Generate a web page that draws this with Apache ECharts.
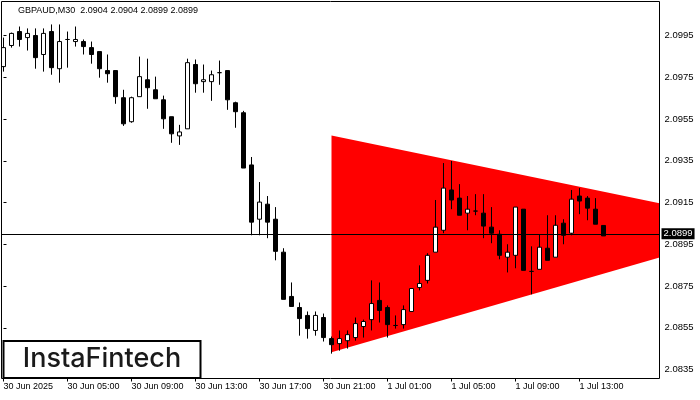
<!DOCTYPE html>
<html><head><meta charset="utf-8">
<script src="https://cdn.jsdelivr.net/npm/echarts@6.0.0/dist/echarts.min.js"></script>
<style>html,body{margin:0;padding:0;background:#fff}#c{width:700px;height:400px}</style>
</head><body><div id="c"></div>
<script>
const titleText = "GBPAUD,M30  2.0904 2.0904 2.0899 2.0899";
const logoText = "InstaFintech";

const opens = [2.09801,2.09902,2.09969,2.09940,2.09950,2.09859,2.09969,2.09791,2.09931,2.09921,
2.09921,2.09892,2.09873,2.09782,2.09782,2.09652,2.09537,2.09657,2.09738,2.09690,
2.09642,2.09561,2.09469,2.09503,2.09811,2.09729,2.09729,2.09772,2.09782,2.09628,
2.09580,2.09330,2.09070,2.09142,2.09070,2.08912,2.08700,2.08647,2.08609,2.08537,
2.08599,2.08498,2.08474,2.08488,2.08503,2.08556,2.08589,2.08681,2.08647,2.08561,
2.08565,2.08628,2.08743,2.08777,2.08912,2.09017,2.09210,2.09171,2.09099,2.09109,
2.09099,2.09032,2.08998,2.08888,2.08897,2.09118,2.08820,2.08830,2.08931,2.08888,
2.09051,2.09003,2.09181,2.09171,2.09118,2.0904];

const closes = [2.09892,2.09960,2.09931,2.09960,2.09844,2.09960,2.09796,2.09921,2.09931,2.09931,
2.09897,2.09859,2.09791,2.09767,2.09657,2.09527,2.09652,2.09753,2.09700,2.09647,
2.09551,2.09479,2.09488,2.09820,2.09719,2.09738,2.09762,2.09772,2.09642,2.09585,
2.09315,2.09056,2.09152,2.09056,2.08916,2.08686,2.08652,2.08594,2.08546,2.08609,
2.08503,2.08469,2.08498,2.08517,2.08570,2.08580,2.08666,2.08633,2.08565,2.08561,
2.08637,2.08738,2.08762,2.08897,2.09032,2.09219,2.09162,2.09089,2.09118,2.09109,
2.09037,2.09003,2.08897,2.08912,2.09128,2.08825,2.08820,2.08936,2.08873,2.09041,
2.08993,2.09166,2.09157,2.09123,2.09046,2.0899];

const lows = [2.09777,2.09892,2.09897,2.09878,2.09791,2.09777,2.09762,2.09724,2.09796,2.09897,
2.09859,2.09815,2.09748,2.09724,2.09623,2.09517,2.09532,2.09657,2.09599,2.09647,
2.09503,2.09436,2.09426,2.09503,2.09676,2.09676,2.09637,2.09714,2.09594,2.09508,
2.09315,2.08993,2.08993,2.08979,2.08873,2.08686,2.08652,2.08512,2.08498,2.08512,
2.08484,2.08426,2.08440,2.08450,2.08488,2.08503,2.08537,2.08575,2.08503,2.08546,
2.08546,2.08628,2.08729,2.08762,2.08912,2.09003,2.09118,2.09089,2.09017,2.09089,
2.08979,2.08955,2.08878,2.08815,2.08835,2.08825,2.08710,2.08830,2.08873,2.08888,
2.08950,2.08993,2.09094,2.09065,2.09046,2.0899];

const highs = [2.09940,2.09964,2.09993,2.09984,2.09984,2.09984,2.10003,2.10003,2.09969,2.09993,
2.09931,2.09921,2.09873,2.09859,2.09782,2.09690,2.09657,2.09849,2.09839,2.09753,
2.09662,2.09561,2.09522,2.09839,2.09835,2.09811,2.09782,2.09830,2.09782,2.09633,
2.09589,2.09368,2.09248,2.09181,2.09128,2.08931,2.08767,2.08671,2.08628,2.08628,
2.08618,2.08508,2.08537,2.08537,2.08599,2.08589,2.08777,2.08767,2.08657,2.08609,
2.08657,2.08738,2.08849,2.08907,2.09162,2.09339,2.09349,2.09238,2.09181,2.09190,
2.09190,2.09128,2.09017,2.08950,2.09128,2.09118,2.08940,2.08998,2.09089,2.09089,
2.09070,2.09210,2.09219,2.09181,2.09171,2.0904];

// time tick labels (every 8 bars of M30)
const timeTickIndex = [0, 8, 16, 24, 32, 40, 48, 56, 64, 72];
const timeTickLabels = ["30 Jun 2025","30 Jun 05:00","30 Jun 09:00","30 Jun 13:00","30 Jun 17:00",
  "30 Jun 21:00","1 Jul 01:00","1 Jul 05:00","1 Jul 09:00","1 Jul 13:00"];
const priceTicks = [2.0835, 2.0855, 2.0875, 2.0895, 2.0915, 2.0935, 2.0955, 2.0975, 2.0995];

// symmetrical triangle pattern (bar index, price)
const patternX = [41, 82];
const patternUpper = [2.09471, 2.09146];
const patternLower = [2.08433, 2.08886];

const lastPrice = closes[closes.length - 1];
const FONT = '"Liberation Sans", Arial, sans-serif';

const candleData = opens.map((o, i) => [i, o, closes[i], lows[i], highs[i]]);

const chart = echarts.init(document.getElementById('c'), null, {renderer: 'canvas'});
chart.setOption({
  animation: false,
  backgroundColor: '#fff',
  grid: {left: 1.5, top: 1.5, width: 658, height: 377, show: true, z: 10,
    borderColor: '#000', borderWidth: 1, backgroundColor: 'transparent'},
  xAxis: {
    type: 'value', min: -0.25, max: 82,
    axisLine: {show: false},
    splitLine: {show: false},
    axisTick: {show: true, customValues: timeTickIndex, length: 3, lineStyle: {color: '#000'}},
    axisLabel: {show: true, customValues: timeTickIndex, align: 'left', margin: 4,
      color: '#000', fontSize: 9, fontFamily: FONT,
      formatter: v => timeTickLabels[timeTickIndex.indexOf(Math.round(v))] || ''}
  },
  yAxis: {
    type: 'value', position: 'right', min: 2.083069, max: 2.101129, scale: true,
    axisLine: {show: false},
    splitLine: {show: false},
    axisTick: {show: true, customValues: priceTicks, length: 3, lineStyle: {color: '#000'}},
    axisLabel: {show: true, customValues: priceTicks, margin: 5, color: '#000',
      fontSize: 9.5, fontFamily: FONT, formatter: v => v.toFixed(4)}
  },
  series: [
    {
      type: 'custom', clip: true, z: 1, silent: true,
      data: [[patternX[0], patternLower[0]]],
      renderItem: (params, api) => {
        const pts = [
          api.coord([patternX[0], patternUpper[0]]),
          api.coord([patternX[1], patternUpper[1]]),
          api.coord([patternX[1], patternLower[1]]),
          api.coord([patternX[0], patternLower[0]])
        ];
        return {type: 'polygon', shape: {points: pts}, style: {fill: '#ff0000', stroke: null}};
      }
    },
    {
      type: 'candlestick', z: 3, barWidth: 4,
      data: candleData,
      encode: {x: 0, y: [1, 2, 3, 4]},
      itemStyle: {color: '#ffffff', color0: '#000000', borderColor: '#000000',
        borderColor0: '#000000', borderColorDoji: '#000000', borderWidth: 1},
      emphasis: {disabled: true},
      markLine: {
        silent: true, symbol: ['none', 'none'], animation: false,
        lineStyle: {color: '#000', width: 1, type: 'solid'},
        emphasis: {disabled: true},
        label: {show: true, position: 'end', distance: 2, formatter: lastPrice.toFixed(4),
          backgroundColor: '#000', color: '#fff', fontSize: 9.5, fontFamily: FONT,
          padding: [1, 2, 0, 2]},
        data: [{yAxis: lastPrice}]
      }
    }
  ],
  graphic: [
    {type: 'text', left: 18, top: 6, z: 20,
      style: {text: titleText, font: '9px ' + FONT, fill: '#000'}},
    {type: 'rect', z: 20, shape: {x: 3.5, y: 341, width: 197, height: 37},
      style: {fill: '#fff', stroke: '#000', lineWidth: 2}},
    {type: 'text', z: 21, x: 102, y: 359,
      style: {text: logoText, font: '500 27px Inter, Lato, "Noto Sans", sans-serif', fill: '#1a1a1a',
        align: 'center', verticalAlign: 'middle'}}
  ]
});
</script>
</body></html>
